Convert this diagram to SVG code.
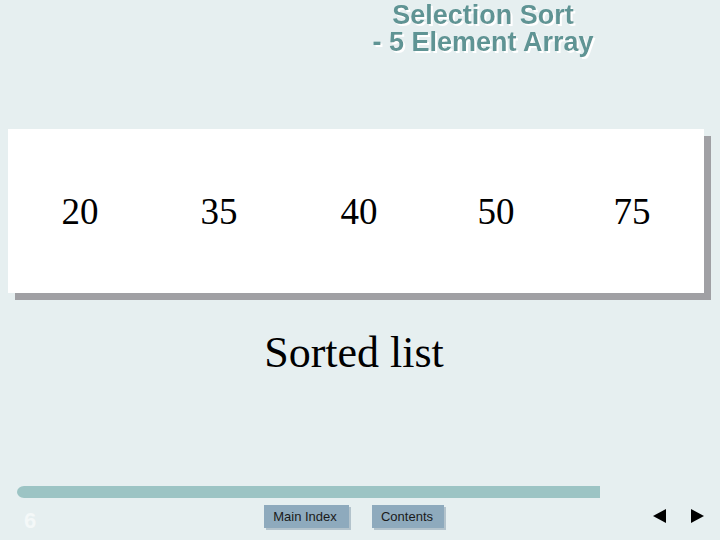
<svg xmlns="http://www.w3.org/2000/svg" width="720" height="540" viewBox="0 0 720 540">
<defs>
<filter id="tsh" x="-10%" y="-30%" width="120%" height="160%">
<feDropShadow dx="2" dy="2" stdDeviation="0" flood-color="#ffffff" flood-opacity="1"/>
</filter>
</defs>
<style>
.title{font-family:"Liberation Sans",Arial,sans-serif;font-weight:bold;font-size:27px;fill:#5e9494;text-anchor:middle}
.num{font-family:"Liberation Serif","Times New Roman",serif;font-size:37px;fill:#000;text-anchor:middle}
.btn{fill:#8eaabd}
.btnsh{fill:#b3c3cc}
.btxt{font-family:"Liberation Sans",Arial,sans-serif;font-size:13px;fill:#1a1a1a;text-anchor:middle}
</style>
<rect x="0" y="0" width="720" height="540" fill="#e6eff0"/>
<g id="title" filter="url(#tsh)">
<text class="title" x="483" y="24">Selection Sort</text>
<text class="title" x="483" y="51">- 5 Element Array</text>
</g>
<g id="array">
<rect x="15" y="136" width="696" height="164" fill="#a0a0a4"/>
<rect x="8" y="129" width="696" height="164" fill="#ffffff"/>
<text class="num" x="80" y="224">20</text>
<text class="num" x="219" y="224">35</text>
<text class="num" x="359" y="224">40</text>
<text class="num" x="496" y="224">50</text>
<text class="num" x="632" y="224">75</text>
</g>
<g id="caption">
<text x="354" y="367" font-family="'Liberation Serif','Times New Roman',serif" font-size="44" fill="#000" text-anchor="middle">Sorted list</text>
</g>
<g id="footer">
<path d="M24,486 H600 V498 H24 A7,6 0 0 1 24,486 Z" fill="#9cc4c4"/>
<text x="30" y="528" font-family="'Liberation Sans',Arial,sans-serif" font-weight="bold" font-size="22" fill="#f4f8f8" text-anchor="middle">6</text>
</g>
<g id="btn-main">
<rect class="btnsh" x="266" y="507" width="85" height="23"/>
<rect class="btn" x="264" y="505" width="85" height="23"/>
<text class="btxt" x="305" y="521">Main Index</text>
</g>
<g id="btn-contents">
<rect class="btnsh" x="374" y="507" width="72" height="23"/>
<rect class="btn" x="372" y="505" width="72" height="23"/>
<text class="btxt" x="407" y="521">Contents</text>
</g>
<g id="nav">
<polygon points="653,516 666,509 666,523" fill="#000"/>
<polygon points="704,516 691,509 691,523" fill="#000"/>
</g>
</svg>
